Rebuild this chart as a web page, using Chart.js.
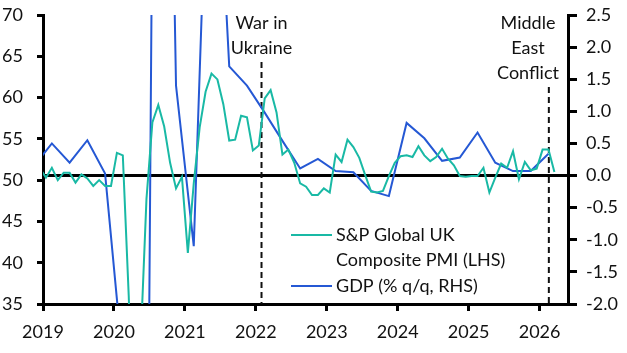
<!DOCTYPE html>
<html>
<head>
<meta charset="utf-8">
<script src="https://cdn.jsdelivr.net/npm/chart.js@4/dist/chart.umd.min.js"></script>
<style>
  html, body { margin: 0; padding: 0; background: #fff; }
  canvas { display: block; }
</style>
</head>
<body>
<canvas id="chart" width="627" height="353"></canvas>
<script>
// UK composite PMI, monthly, first value is Dec 2018
const pmiStart = { year: 2018, month: 12 };
const pmi = [
    51.4,
    50.3, 51.5, 50.0, 50.9, 50.9, 49.7, 50.7, 50.2, 49.3, 50.0, 49.3, 49.3,
    53.3, 53.0, 36.0, 13.8, 30.0, 47.7, 57.0, 59.1, 56.5, 52.1, 49.0, 50.4,
    41.2, 49.6, 56.4, 60.7, 62.9, 62.2, 59.2, 54.8, 54.9, 57.8, 57.6, 53.6,
    54.2, 59.9, 60.9, 58.2, 53.1, 53.7, 52.1, 49.6, 49.2, 48.2, 48.2, 49.0,
    48.5, 53.1, 52.2, 54.9, 54.0, 52.7, 50.6, 48.6, 48.5, 48.7, 50.5, 52.1,
    52.9, 53.0, 52.8, 54.1, 53.0, 52.3, 52.8, 53.8, 52.6, 51.8, 50.5, 50.4,
    50.5, 50.5, 51.5, 48.5, 50.3, 52.0, 51.5, 53.5, 50.1, 52.2, 51.2, 51.4,
    53.7, 53.7, 51.0
];

// GDP % q/q, quarterly, first value is 2018 Q4
const gdpStart = { year: 2018, quarter: 4 };
const gdp = [
    0.15,
    0.5, 0.2, 0.55, 0.03,
    -2.9, -20.3, 16.8, 1.4,
    -1.1, 7.0, 1.7, 1.4,
    0.98, 0.54, 0.11, 0.26,
    0.07, 0.05, -0.24, -0.32,
    0.82, 0.58, 0.23, 0.28,
    0.67, 0.2, 0.07, 0.07,
    0.34
];

const yearTicks = [2019, 2020, 2021, 2022, 2023, 2024, 2025, 2026];
const xRange = [2019, 2026.4];
const pmiRange = [35, 70];
const gdpRange = [-2, 2.5];

const events = [
    { date: 2022.08, label: ['War in', 'Ukraine'] },
    { date: 2026.13, label: ['Middle', 'East', 'Conflict'] }
];

const seriesNames = [
    ['S&P Global UK', 'Composite PMI (LHS)'],
    ['GDP (% q/q, RHS)']
];

const teal = '#19b9a5';
const blue = '#2558d4';
const ink = '#111';
const fontFamily = 'Lato, "Open Sans", sans-serif';
const fontSize = 18;

function monthToX(i) {
    const m = pmiStart.month - 1 + i;
    return pmiStart.year + Math.floor(m / 12) + ((m % 12) + 0.5) / 12;
}

function quarterToX(i) {
    const q = gdpStart.quarter - 1 + i;
    return gdpStart.year + Math.floor(q / 4) + ((q % 4) * 3 + 1.5) / 12;
}

// keep the plot box fixed, labels may hang outside it
function noPadding(scale) {
    scale.paddingTop = 0;
    scale.paddingBottom = 0;
    scale.paddingLeft = 0;
    scale.paddingRight = 0;
}

const eventsPlugin = {
    id: 'events',
    beforeDatasetsDraw(chart) {
        const { ctx, chartArea, scales } = chart;
        ctx.save();
        ctx.strokeStyle = ink;
        ctx.lineWidth = 2;
        ctx.setLineDash([6, 4]);
        for (const ev of events) {
            const x = scales.x.getPixelForValue(ev.date);
            const top = 23 + (ev.label.length - 1) * 25 + 14;
            ctx.beginPath();
            ctx.moveTo(x, top);
            ctx.lineTo(x, chartArea.bottom);
            ctx.stroke();
        }
        ctx.restore();
    },
    afterDraw(chart) {
        const { ctx, chartArea, scales } = chart;
        ctx.save();
        ctx.fillStyle = ink;
        ctx.font = fontSize + 'px ' + fontFamily;
        ctx.textAlign = 'center';
        ctx.textBaseline = 'middle';
        for (const ev of events) {
            const x = scales.x.getPixelForValue(ev.date);
            const cx = Math.min(x, chartArea.right - 40);
            ev.label.forEach((line, i) => ctx.fillText(line, cx, 23 + i * 25));
        }

        // legend
        const lx = chartArea.left + 248;
        const rows = [
            { color: teal, lines: seriesNames[0], y: 235 },
            { color: blue, lines: seriesNames[1], y: 286 }
        ];
        ctx.textAlign = 'left';
        ctx.lineWidth = 2;
        for (const row of rows) {
            ctx.strokeStyle = row.color;
            ctx.beginPath();
            ctx.moveTo(lx, row.y);
            ctx.lineTo(lx + 41, row.y);
            ctx.stroke();
            row.lines.forEach((line, i) => ctx.fillText(line, lx + 45, row.y + i * 25.5));
        }
        ctx.restore();
    }
};

new Chart(document.getElementById('chart'), {
    type: 'line',
    data: {
        datasets: [
            {
                label: seriesNames[0].join(' '),
                data: pmi.map((v, i) => ({ x: monthToX(i), y: v })),
                borderColor: teal,
                borderWidth: 2,
                pointRadius: 0,
                yAxisID: 'y',
                clip: 0
            },
            {
                label: seriesNames[1].join(' '),
                data: gdp.map((v, i) => ({ x: quarterToX(i), y: v })),
                borderColor: blue,
                borderWidth: 2,
                pointRadius: 0,
                yAxisID: 'y1',
                clip: 0
            }
        ]
    },
    options: {
        responsive: false,
        animation: false,
        layout: { padding: { top: 15, left: 0, right: 0, bottom: 0 } },
        plugins: {
            legend: { display: false },
            tooltip: { enabled: false }
        },
        scales: {
            x: {
                type: 'linear',
                min: xRange[0],
                max: xRange[1],
                afterBuildTicks: scale => { scale.ticks = yearTicks.map(v => ({ value: v })); },
                afterFit: scale => { scale.height = 49; noPadding(scale); },
                ticks: {
                    callback: v => String(v),
                    color: ink,
                    font: { family: fontFamily, size: fontSize },
                    padding: 10,
                    maxRotation: 0
                },
                grid: {
                    drawOnChartArea: false,
                    tickLength: 7,
                    lineWidth: 3,
                    color: '#000'
                },
                border: { width: 3, color: '#000' }
            },
            y: {
                position: 'left',
                min: pmiRange[0],
                max: pmiRange[1],
                afterFit: scale => { scale.width = 43; noPadding(scale); },
                ticks: {
                    stepSize: 5,
                    color: ink,
                    font: { family: fontFamily, size: fontSize },
                    padding: 14
                },
                grid: {
                    drawOnChartArea: false,
                    tickLength: 6,
                    lineWidth: 3,
                    color: '#000'
                },
                border: { width: 3, color: '#000' }
            },
            y1: {
                position: 'right',
                min: gdpRange[0],
                max: gdpRange[1],
                afterFit: scale => { scale.width = 59; noPadding(scale); },
                ticks: {
                    stepSize: 0.5,
                    callback: v => v.toFixed(1),
                    color: ink,
                    font: { family: fontFamily, size: fontSize },
                    padding: 9
                },
                grid: {
                    drawOnChartArea: true,
                    color: c => (c.tick && c.tick.value === 0 ? '#000' : 'rgba(0,0,0,0)'),
                    tickColor: '#000',
                    tickLength: 9,
                    tickWidth: 3,
                    lineWidth: 3
                },
                border: { width: 3, color: '#000' }
            }
        }
    },
    plugins: [eventsPlugin]
});
</script>
</body>
</html>
